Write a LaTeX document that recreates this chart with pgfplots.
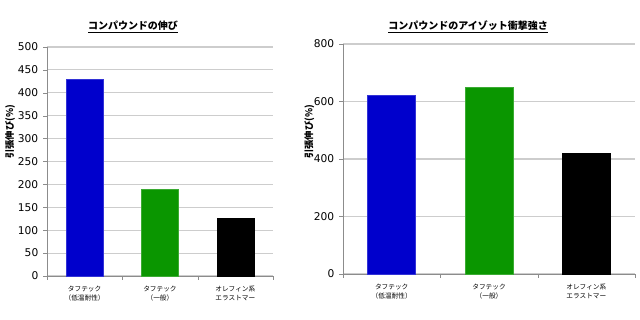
\documentclass[border=0pt]{standalone}
\usepackage{fontspec}
\setmainfont{DejaVu Sans}
\newfontfamily\jp{Noto Sans CJK JP}
\usepackage{pgfplots}
\pgfplotsset{compat=1.18}
\definecolor{barblue}{RGB}{0,0,204}
\definecolor{bargreen}{RGB}{10,150,0}
\definecolor{gridgray}{RGB}{205,205,205}
\definecolor{axgray}{RGB}{140,140,140}
\pgfplotsset{
  mystyle/.style={
    scale only axis,
    axis y line*=left,
    axis x line*=bottom,
    axis line style={axgray},
    ymajorgrids,
    grid style={gridgray, line width=0.8pt},
    xmin=-0.5, xmax=2.5, ymin=0,
    xtick={0,1,2},
    major x tick style={draw=none},
    minor xtick={-0.5,0.5,1.5,2.5},
    minor tick length=3pt,
    major tick length=3pt,
    tick align=outside,
    y tick style={axgray},
    minor x tick style={axgray},
    xticklabels={},
    tick label style={font=\fontsize{8}{9}\selectfont},
    /pgf/number format/assume math mode=true,
    ybar, bar shift=0pt,
    anchor=south west,
    clip=false,
  }
}
\newcommand{\cat}[3]{\node[font=\jp\fontsize{5}{6}\selectfont, align=center, anchor=north] at (axis cs:#1,0) [yshift=-4pt] {#2\\[1pt]#3};}
\begin{document}
\begin{tikzpicture}
\useasboundingbox (0,0) rectangle (480pt,240pt);
\begin{axis}[mystyle,
  at={(35.25pt,33pt)}, width=169.5pt, height=171.75pt,
  ymax=500, ytick={0,50,...,500}, bar width=27.75pt]
\addplot[fill=barblue, draw=barblue!80] coordinates {(0,430)};
\addplot[fill=bargreen, draw=bargreen!80] coordinates {(1,190)};
\addplot[fill=black, draw=black] coordinates {(2,125)};
\cat{0}{タフテック}{（低温耐性）}
\cat{1}{タフテック}{（一般）}
\cat{2}{オレフィン系}{エラストマー}
\end{axis}
\begin{axis}[mystyle,
  at={(257.25pt,34.5pt)}, width=219pt, height=172.5pt,
  ymax=800, ytick={0,200,...,800}, bar width=36pt]
\addplot[fill=barblue, draw=barblue!80] coordinates {(0,620)};
\addplot[fill=bargreen, draw=bargreen!80] coordinates {(1,650)};
\addplot[fill=black, draw=black] coordinates {(2,420)};
\cat{0}{タフテック}{（低温耐性）}
\cat{1}{タフテック}{（一般）}
\cat{2}{オレフィン系}{エラストマー}
\end{axis}
\node[font=\jp\bfseries\fontsize{7.5}{9}\selectfont] at (99.75pt,219.75pt) {\underline{コンパウンドの伸び}};
\node[font=\jp\bfseries\fontsize{7.5}{9}\selectfont] at (351pt,219.75pt) {\underline{コンパウンドのアイゾット衝撃強さ}};
\node[font=\jp\bfseries\fontsize{7}{8}\selectfont, rotate=90] at (7.5pt,141pt) {引張伸び(\%)};
\node[font=\jp\bfseries\fontsize{7}{8}\selectfont, rotate=90] at (232pt,141pt) {引張伸び(\%)};
\end{tikzpicture}
\end{document}
